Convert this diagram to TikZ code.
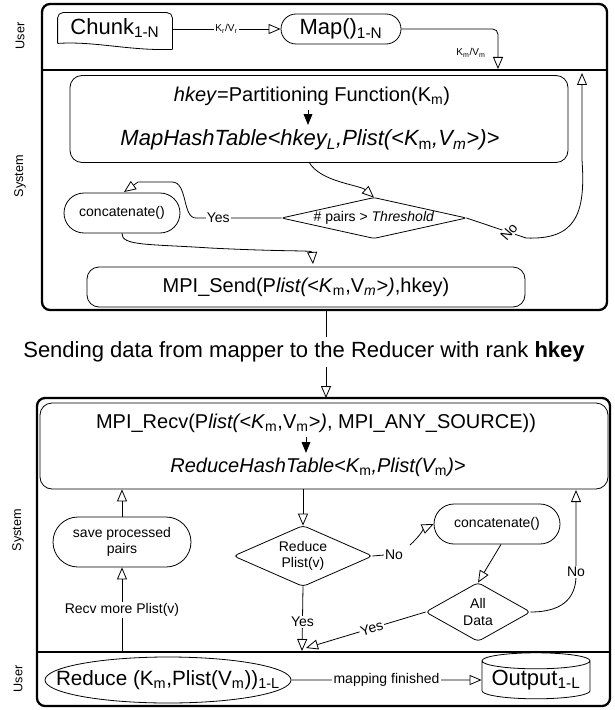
\documentclass[tikz,border=0pt]{standalone}
\usepackage{fontspec}
\setmainfont{Liberation Sans}
\usetikzlibrary{arrows.meta,shapes.geometric,shapes.misc,calc}
\begin{document}
\begin{tikzpicture}[x=0.75pt,y=-0.75pt,line width=0.6pt,
  panel/.style={draw,line width=1.7pt,rounded corners=6pt},
  divider/.style={line width=1.5pt},
  box/.style={draw,rounded corners=9pt,inner sep=0pt},
  term/.style={draw,rounded rectangle,inner sep=0pt},
  dbox/.style={inner sep=0pt},
  oa/.style={-{Triangle[open,length=9pt,width=7.5pt]}},
  ba/.style={-{Triangle[length=8pt,width=6.5pt]}},
  lab/.style={fill=white,inner sep=1pt},
  side/.style={rotate=90,font=\fontsize{9.5}{11}\selectfont},
  big/.style={font=\fontsize{15}{18}\selectfont},
  bigi/.style={font=\fontsize{16.5}{19}\selectfont},
  huge/.style={font=\fontsize{16.5}{19}\selectfont},
  mid/.style={font=\fontsize{10.5}{12.5}\selectfont},
  tiny/.style={font=\fontsize{7.5}{9}\selectfont}]
\useasboundingbox (0,0) rectangle (614,710);

% ---------- top panel ----------
\draw[panel] (42,4) rectangle (607,310);
\draw[divider] (42,70) -- (607,70);
\node[side] (u1) at (20,36) {User};
\node[side] (s1) at (20,176) {System};

\node[dbox,huge,minimum width=114*0.75pt,minimum height=30*0.75pt] (chunk) at (115,28) {Chunk\textsubscript{1-N}};
\draw[rounded corners=4pt] (chunk.south west) -- (chunk.north west) -- (chunk.north east) -- ($(chunk.south east)+(0,6)$);
\draw (chunk.south west) .. controls (95,41) and (130,51) .. ($(chunk.south east)+(0,6)$);

\node[term,huge,minimum width=120*0.75pt,minimum height=30*0.75pt] (map) at (341,29) {Map()\textsubscript{1-N}};
\draw[oa] (chunk.east |- map.west) -- node[lab,tiny]{K\textsubscript{r}/V\textsubscript{r}} (map.west);
\coordinate (kmtip) at (498,69);
\draw[oa,rounded corners=4pt] (map.east) -| (kmtip);
\node[tiny] (kmlab) at (471,53) {K\textsubscript{m}/V\textsubscript{m}};

\node[box,minimum width=498*0.75pt,minimum height=87*0.75pt] (ht) at (319,119) {};
\node[big] (hk) at (312,96) {\textit{hkey}=Partitioning Function(K\textsubscript{m})};
\node[bigi] (mht) at (310,140) {\textit{MapHashTable<hkey\textsubscript{L},Plist(<K\textsubscript{\upshape m},V\textsubscript{m}>)>}};
\draw[ba] (hk.south -| 308,0) -- (mht.north -| 308,0);

\node[dbox,mid,minimum width=184*0.75pt,minimum height=40*0.75pt] (thr) at (374,218) {\# pairs > \textit{Threshold}};
\draw[rounded corners=2pt] (thr.west) -- (thr.north) -- (thr.east) -- (thr.south) -- cycle;
\draw[oa] (309,162) .. controls (320,182) and (360,185) .. (thr.north);

\node[term,mid,minimum width=116*0.75pt,minimum height=40*0.75pt] (cc1) at (122,213) {concatenate()};
\draw[oa] (thr.west) -- node[lab,mid,pos=0.74]{Yes} (196,218) .. controls (182,218) and (188,182) .. (172,182) -- (138,182) -- (124,192);
\draw[oa] (cc1.south) .. controls (121,246) and (150,244) .. (210,248) .. controls (290,252) and (312,250) .. (313,264);
\draw[oa] (thr.east) -- (526,238) .. controls (575,240) and (586,215) .. (582,160) -- (582,73);
\node[lab,mid,rotate=50] (no1) at (509,232) {No};

\node[box,big,minimum width=438*0.75pt,minimum height=40*0.75pt] (send) at (306,287) {MPI\_Send(P\textit{list(<K}\textsubscript{m},V\textsubscript{\itshape m}\textit{>)},hkey)};

% ---------- transfer ----------
\coordinate (p1) at (326,310);
\node[font=\fontsize{16.5}{19}\selectfont] (sendtxt) at (304,352) {Sending data from mapper to the Reducer with rank \textbf{hkey}};
\draw (p1) -- (p1 |- sendtxt.north);
\coordinate (p2) at (326,398);
\draw[oa] (p1 |- sendtxt.south) -- (p2);

% ---------- bottom panel ----------
\draw[panel] (37,398) rectangle (610,706);
\draw[divider] (37,652) -- (610,652);
\node[side] (s2) at (18,530) {System};
\node[side] (u2) at (18,679) {User};

\node[box,minimum width=568*0.75pt,minimum height=86*0.75pt] (recv) at (324,446) {};
\node[big] (rv) at (316,423) {MPI\_Recv(P\textit{list(<K}\textsubscript{m},V\textsubscript{m}\textit{>)}, MPI\_ANY\_SOURCE))};
\node[big] (rht) at (318,467) {\textit{ReduceHashTable<K\textsubscript{\upshape m},Plist(V\textsubscript{\upshape m})>}};
\draw[ba] (rv.south -| 306,0) -- (rht.north -| 306,0);

\node[term,mid,align=center,minimum width=138*0.75pt,minimum height=50*0.75pt] (save) at (122,542) {save processed\\pairs};
\node[dbox,mid,align=center,minimum width=138*0.75pt,minimum height=60*0.75pt] (rd) at (303,556) {Reduce\\Plist(v)};
\draw[rounded corners=3pt] (rd.west) -- (rd.north) -- (rd.east) -- (rd.south) -- cycle;
\node[term,mid,minimum width=126*0.75pt,minimum height=40*0.75pt] (cc2) at (497,524) {concatenate()};
\node[dbox,mid,align=center,minimum width=104*0.75pt,minimum height=58*0.75pt] (ad) at (478,612) {All\\Data};
\draw[rounded corners=3pt] (ad.west) -- (ad.north) -- (ad.east) -- (ad.south) -- cycle;

\draw[oa] (save.north) -- (save.north |- recv.south);
\coordinate (d1) at (122,652);
\draw[oa] (d1) -- node[lab,mid,pos=0.5]{Recv more Plist(v)} (save.south);
\draw[oa] (rd.north |- recv.south) -- (rd.north);
\draw[oa] (rd.east) -- (384,555) node[lab,mid,anchor=west,inner sep=0.5pt]{No} (410,545) .. controls (418,538) and (425,528) .. (cc2.west);
\draw[oa] ($(cc2.south)+(4,0)$) -- (ad.north);
\draw[oa] (ad.east) .. controls (566,612) and (577,595) .. (576,572) node[lab,mid]{No} -- (576,490);
\coordinate (y1) at (302,651);
\draw[oa] (rd.south) -- node[lab,mid,pos=0.55]{Yes} (y1);
\coordinate (y2) at (306,648);
\draw[oa] (ad.west) -- node[lab,mid,sloped,pos=0.45]{Yes} (y2);

\node[dbox,font=\fontsize{15.5}{18}\selectfont,minimum width=246*0.75pt,minimum height=46*0.75pt] (red) at (168,680) {Reduce (K\textsubscript{m},Plist(V\textsubscript{m}))\textsubscript{1-L}};
\draw (red.center) ellipse [x radius=123,y radius=23];
\node[draw,cylinder,shape border rotate=90,aspect=0.18,huge,inner sep=0pt,minimum width=108*0.75pt,minimum height=46*0.75pt] (out) at (536,680) {Output\textsubscript{1-L}};
\draw[oa] (red.east) -- node[lab,mid]{mapping finished} (out.west);
\end{tikzpicture}
\end{document}
